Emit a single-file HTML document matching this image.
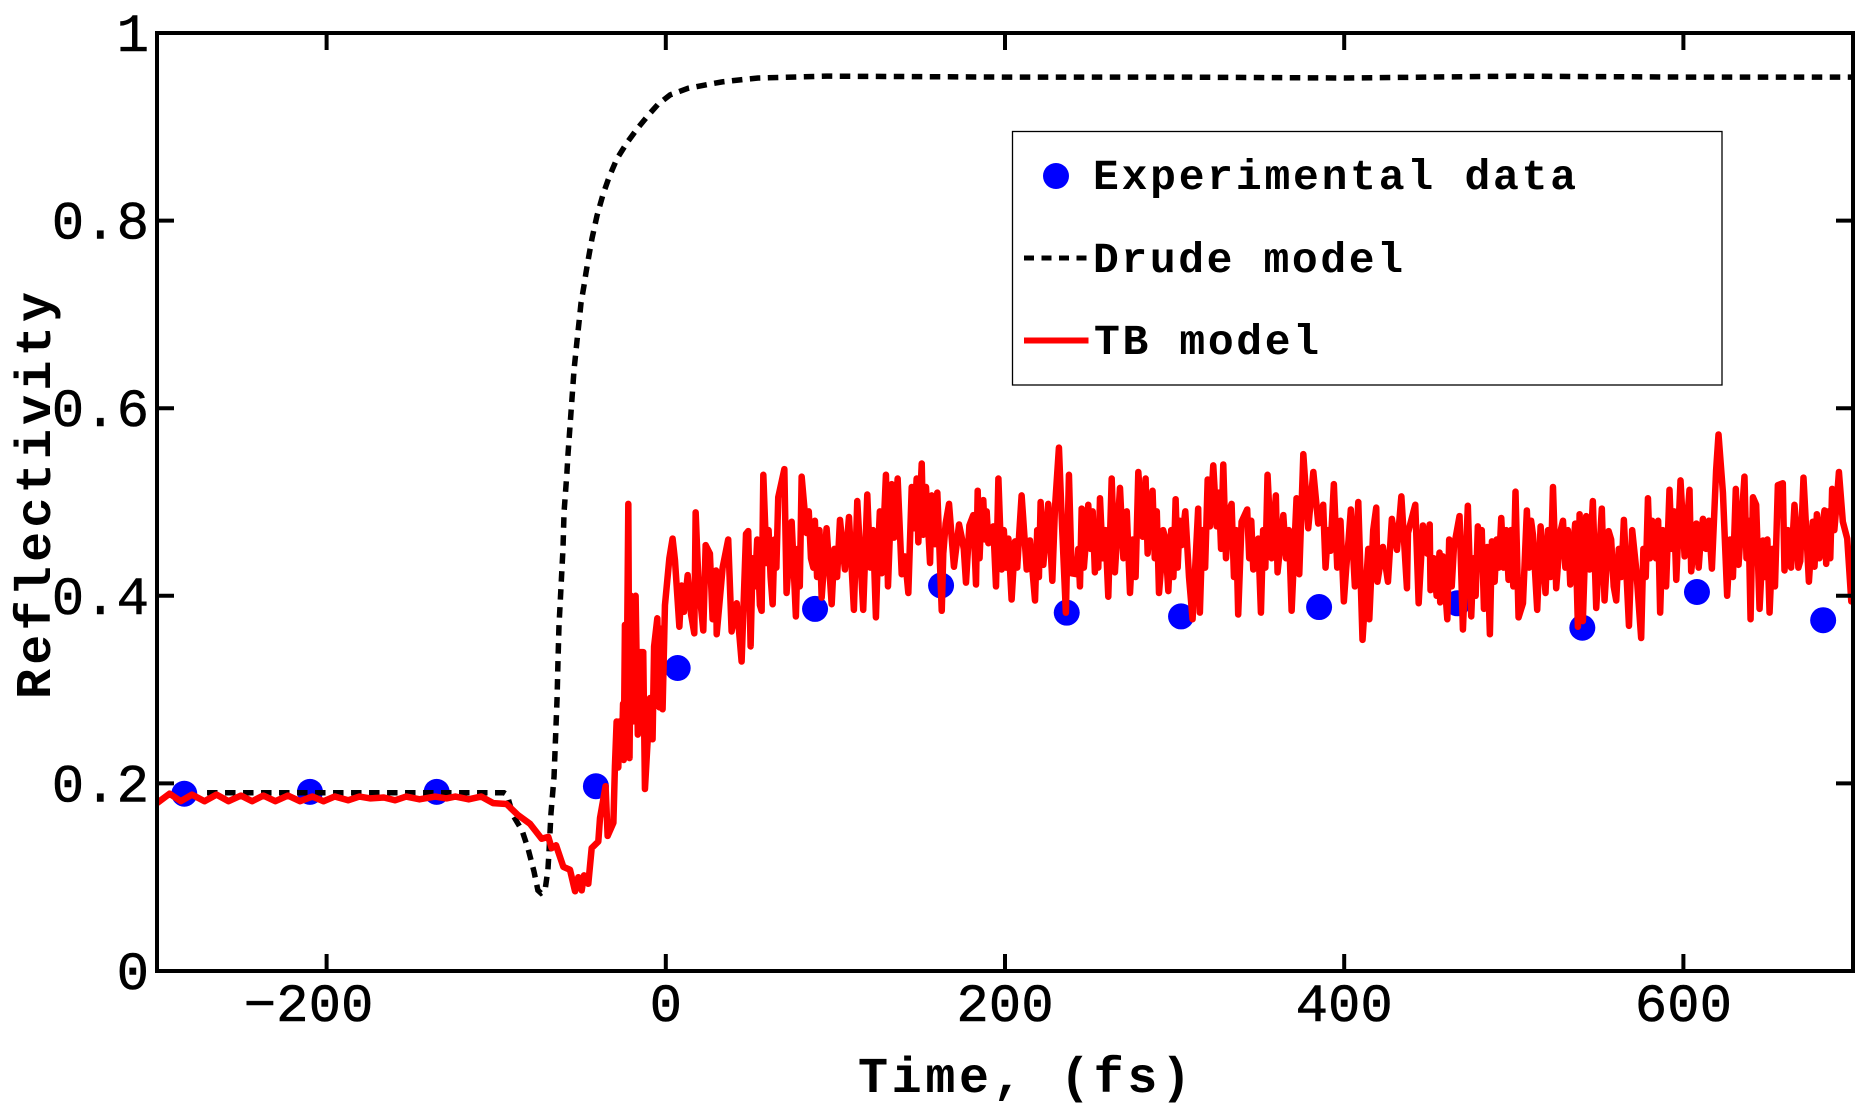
<!DOCTYPE html>
<html lang="en">
<head>
<meta charset="utf-8">
<title>Reflectivity vs time</title>
<style>
html,body{margin:0;padding:0;background:#fff;width:1868px;height:1111px;overflow:hidden}
svg{display:block}
text{font-family:"Liberation Mono",monospace;fill:#000}
</style>
</head>
<body>
<svg id="chart" xmlns="http://www.w3.org/2000/svg" width="1868" height="1111" viewBox="0 0 1868 1111">
  <rect x="0" y="0" width="1868" height="1111" fill="#fff"/>
  <defs><clipPath id="plot-clip"><rect x="157" y="33" width="1696" height="938"/></clipPath></defs>
  <g id="series" clip-path="url(#plot-clip)"></g>
  <g id="axes"></g>
  <text x="858" y="1092" font-size="50" font-weight="700" textLength="333" lengthAdjust="spacing">Time, (fs)</text>
  <text transform="translate(50,699) rotate(-90)" font-size="50" font-weight="700" textLength="407" lengthAdjust="spacing">Reflectivity</text>
  <g>
    <rect x="1012.5" y="131.5" width="709.5" height="253.5" fill="#fff" stroke="#000" stroke-width="1.3"/>
    <circle cx="1056" cy="176" r="13" fill="#0000ff"/>
    <text x="1093" y="189" font-size="43" font-weight="700" textLength="483" lengthAdjust="spacing">Experimental data</text>
    <line x1="1024" y1="258" x2="1090" y2="258" stroke="#000" stroke-width="5" stroke-dasharray="10 7.5"/>
    <text x="1093" y="272" font-size="43" font-weight="700" textLength="310" lengthAdjust="spacing">Drude model</text>
    <line x1="1024" y1="340.5" x2="1088.5" y2="340.5" stroke="#ff0000" stroke-width="6"/>
    <text x="1094" y="354" font-size="43" font-weight="700" textLength="225" lengthAdjust="spacing">TB model</text>
  </g>
</svg>
<script>
const xTicks = [-200, 0, 200, 400, 600];
const xTickLabels = ["\u2212200", "0", "200", "400", "600"];
const yTicks = [0, 0.2, 0.4, 0.6, 0.8, 1];
const yTickLabels = ["0", "0.2", "0.4", "0.6", "0.8", "1"];

const experimentalTimes = [-283.9, -209.8, -135.1, -41.2, 7, 88, 162.3, 236.4, 303.8, 385.2, 466.7, 540.4, 608, 682.4];
const experimentalValues = [0.189, 0.191, 0.191, 0.197, 0.323, 0.386, 0.411, 0.382, 0.378, 0.388, 0.392, 0.366, 0.404, 0.374];

const drudeTimes = [-270.5, -95.4, -93.6, -90.1, -84.8, -81.3, -77.7, -75.4, -73.6, -71.2, -69.5, -68.9, -67.7, -65.9, -64.1, -63.6, -63, -61.8, -60.6, -60, -58.3, -57.7, -54.1, -52.4, -51.2, -50, -48.2, -47.1, -45.3, -43.5, -40.6, -37, -33.5, -28.8, -22.9, -16.4, -10.5, -4.6, 2.5, 13.1, 24.3, 33.7, 43.8, 54.4, 74.4, 95, 200, 300, 400, 500, 600, 700];
const drudeValues = [0.19, 0.19, 0.188, 0.166, 0.15, 0.131, 0.106, 0.086, 0.083, 0.086, 0.108, 0.126, 0.168, 0.207, 0.291, 0.328, 0.367, 0.409, 0.451, 0.489, 0.531, 0.55, 0.641, 0.671, 0.691, 0.712, 0.731, 0.744, 0.763, 0.781, 0.805, 0.828, 0.846, 0.866, 0.883, 0.899, 0.912, 0.924, 0.934, 0.941, 0.945, 0.948, 0.95, 0.952, 0.953, 0.954, 0.953, 0.953, 0.952, 0.954, 0.953, 0.953];

const tbTimesPre = [-300, -292.6, -286, -279.4, -272, -264.9, -257.8, -250.5, -243.9, -237.3, -230.2, -222.8, -215.7, -208.4, -201.8, -195.2, -187.3, -180.7, -174.1, -166.2, -159.7, -153.1, -145.2, -136, -129.4, -124.1, -116.2, -108.9, -101.8, -93.9];
const tbValuesPre = [0.179, 0.189, 0.181, 0.188, 0.181, 0.188, 0.181, 0.187, 0.181, 0.187, 0.181, 0.187, 0.181, 0.186, 0.181, 0.186, 0.182, 0.186, 0.184, 0.185, 0.182, 0.186, 0.183, 0.186, 0.184, 0.186, 0.183, 0.186, 0.179, 0.178];

const tbTimesRise = [-87, -80.1, -73.2, -69.3, -67.3, -64.7, -60.4, -56.5, -53.5, -51.6, -49.6, -48.2, -45.7, -43.7, -39.8, -38.8, -35.5, -34.3, -30.9, -30, -29, -28, -27.4, -26, -25.2, -24.8, -24.1, -23.4, -22.1, -21.4, -20.5, -19.5, -17.8, -16.5, -15.1, -13.3, -12.3, -9.3, -7.8, -6.9, -5, -3.8, -3, -1.9, -0.5, 2.1, 4, 5.4, 8, 9.3, 10.7, 12.9, 14.9, 16.8, 17.6, 19.2, 22.1, 23.5, 26, 27.6, 29.6, 30];
const tbValuesRise = [0.166, 0.157, 0.141, 0.143, 0.131, 0.134, 0.111, 0.108, 0.085, 0.1, 0.086, 0.102, 0.093, 0.131, 0.138, 0.163, 0.197, 0.144, 0.158, 0.218, 0.266, 0.217, 0.266, 0.229, 0.285, 0.225, 0.369, 0.228, 0.498, 0.227, 0.4, 0.266, 0.4, 0.252, 0.34, 0.34, 0.194, 0.291, 0.247, 0.346, 0.376, 0.281, 0.365, 0.279, 0.39, 0.44, 0.461, 0.438, 0.367, 0.411, 0.383, 0.422, 0.38, 0.36, 0.489, 0.417, 0.363, 0.454, 0.445, 0.375, 0.427, 0.359];

const tbTimesA = [33.5, 36.8, 38.8, 41.8, 44.7, 47.3, 48.6, 50, 53.9, 55.5, 56.5, 57.5, 59.4, 63, 66.3, 69.9, 71.2, 74.2, 76.7, 80.1, 83, 87, 87.9, 91.9, 94.8, 97.8, 102.7, 105.6, 108, 110.9, 112.9, 116.4, 118.8, 123.9];
const tbValuesA = [0.43, 0.46, 0.362, 0.392, 0.33, 0.466, 0.469, 0.346, 0.46, 0.39, 0.384, 0.529, 0.435, 0.391, 0.505, 0.535, 0.403, 0.479, 0.378, 0.527, 0.467, 0.43, 0.48, 0.398, 0.472, 0.391, 0.481, 0.428, 0.484, 0.385, 0.501, 0.385, 0.508, 0.377];

const tbTimesB = [127.3, 129.8, 131, 133.2, 134.6, 136.7, 139.1, 141, 143, 145, 146.5, 147.9, 148.9, 150.9, 151.8, 153.4, 155.8, 156.8, 158.7, 160.1, 162.7, 163.6, 165, 167, 169.9, 172.9, 174.4, 177, 179, 181.3, 182.9, 183.9, 187.2, 190.2, 193.1, 194.7, 196.1, 198, 202, 203.9, 205.9, 209.8, 212.8, 214.7, 217.7, 221, 222.6, 225.5, 227.9, 229.5, 231.8, 233.4, 235.9, 237.7, 239.3, 242.2, 245.2, 249.1, 253, 256, 260.9, 262.9, 264.8, 267.8, 273.7];
const tbValuesB = [0.424, 0.529, 0.41, 0.519, 0.462, 0.525, 0.423, 0.442, 0.403, 0.516, 0.472, 0.525, 0.457, 0.541, 0.465, 0.516, 0.435, 0.507, 0.455, 0.51, 0.384, 0.445, 0.477, 0.498, 0.431, 0.476, 0.463, 0.414, 0.475, 0.486, 0.412, 0.512, 0.502, 0.456, 0.474, 0.41, 0.525, 0.428, 0.461, 0.396, 0.458, 0.507, 0.428, 0.459, 0.395, 0.5, 0.433, 0.498, 0.416, 0.495, 0.558, 0.484, 0.382, 0.529, 0.424, 0.423, 0.493, 0.497, 0.425, 0.504, 0.399, 0.525, 0.425, 0.515, 0.403];

const tbTimesC = [278.6, 281.1, 282.9, 284.1, 287, 290.8, 294.3, 296.3, 300.6, 304.1, 310.6, 313.9, 314.9, 319.5, 320.8, 322.8, 324.8, 328.7, 333.6, 337.5, 339.5, 342.8, 346.4, 349.3, 350.9, 354.8, 357.2, 359.7, 360.7, 364.1, 369, 371.9, 373.5, 375.9, 378.8, 381.8, 384.7, 387.6, 391.9, 393.9, 399.8, 403.9, 406.3, 408.3, 410.8, 414.2, 414.8, 417.1];
const tbValuesC = [0.532, 0.463, 0.525, 0.445, 0.512, 0.403, 0.463, 0.405, 0.503, 0.454, 0.375, 0.493, 0.382, 0.524, 0.474, 0.539, 0.474, 0.54, 0.498, 0.38, 0.479, 0.492, 0.428, 0.461, 0.382, 0.529, 0.44, 0.507, 0.425, 0.486, 0.384, 0.504, 0.423, 0.551, 0.472, 0.532, 0.477, 0.497, 0.448, 0.519, 0.394, 0.492, 0.41, 0.5, 0.353, 0.45, 0.375, 0.47];

const tbTimesD = [418.9, 419.6, 422.8, 425.8, 428.1, 431.1, 433.7, 437, 437.6, 441.9, 443.9, 446.4, 449, 450.4, 450.9, 456.2, 456.6, 458.2, 460.8, 464.7, 468, 470, 472.9, 474.9, 478.8, 482.4, 484.3, 485.9, 487.1, 488.7, 492.6, 496.9, 501, 502.8, 505.4, 507.7, 511.3, 513.8, 515.8, 518.7, 523.1, 525, 529, 533.3, 536.2, 537.8, 538.8, 540.7, 542.7, 544.7, 546.6, 548.6];
const tbValuesD = [0.494, 0.415, 0.452, 0.415, 0.482, 0.449, 0.506, 0.408, 0.467, 0.497, 0.392, 0.475, 0.445, 0.476, 0.406, 0.446, 0.393, 0.442, 0.375, 0.452, 0.485, 0.364, 0.496, 0.378, 0.474, 0.386, 0.452, 0.359, 0.458, 0.415, 0.483, 0.417, 0.511, 0.377, 0.392, 0.491, 0.465, 0.385, 0.474, 0.403, 0.516, 0.408, 0.48, 0.412, 0.477, 0.367, 0.487, 0.373, 0.485, 0.428, 0.501, 0.387];

const tbTimesE = [551.9, 553.5, 555.9, 560.4, 564.9, 567.9, 569.8, 572.2, 575.1, 579.1, 582.6, 586.3, 591.8, 595.8, 598.3, 600.7, 603.6, 604.6, 607.6, 611.5, 616.8, 619.3, 620.7, 623.3, 625.8, 630.9, 632.5, 636, 639.6, 641, 642.9, 644.9, 646.9, 650.8, 655.7, 658.6, 659.6, 665.5, 668.9, 670.8, 674, 676.3, 677.3, 678.7, 683.2, 684.2, 687.7, 691.7, 694, 696.6, 699];
const tbValuesE = [0.493, 0.395, 0.469, 0.395, 0.481, 0.368, 0.47, 0.428, 0.355, 0.504, 0.472, 0.382, 0.513, 0.417, 0.523, 0.442, 0.513, 0.426, 0.477, 0.482, 0.429, 0.534, 0.572, 0.51, 0.4, 0.514, 0.433, 0.527, 0.375, 0.505, 0.497, 0.386, 0.459, 0.382, 0.518, 0.52, 0.427, 0.497, 0.437, 0.526, 0.415, 0.479, 0.431, 0.487, 0.491, 0.434, 0.514, 0.532, 0.479, 0.461, 0.394];

/* smaller oscillations inside the solid core of the noisy trace, estimated by eye */
const tbCoreTimes = [51.2, 52.6, 60.6, 61.8, 64.1, 65.2, 77.8, 79, 84.3, 85.6, 89.2, 90.6, 99.4, 101, 120.5, 122.2, 125, 126.2, 175.7, 185, 186.1, 188.2, 189.2, 199.3, 200.7, 207.2, 208.5, 219, 220, 243.2, 244.2, 246.5, 247.8, 250.4, 251.7, 254, 255, 257.6, 259.2, 269.8, 271.8, 275.3, 277, 288.3, 289.5, 292, 293.2, 298, 299.3, 301.8, 303, 306.3, 308.5, 316.4, 318, 326.1, 327.4, 330.3, 332, 335, 336.3, 344, 345.2, 352.2, 353.5, 365.7, 367.4, 389, 390.5, 395.9, 397.8, 401.2, 402.6, 452.7, 454.5, 461.9, 463.4, 476.2, 477.5, 479.9, 481.1, 489.9, 491.2, 494, 495.5, 498.3, 499.7, 509, 510.2, 520.2, 521.7, 526.3, 527.7, 530.4, 531.9, 557.4, 558.9, 561.9, 563.4, 576.4, 577.8, 580.3, 581.5, 583.8, 585.1, 587.8, 589.8, 593.1, 594.5, 609, 610.2, 613.3, 615, 627.5, 629.2, 637.2, 638.4, 648.2, 649.5, 652.4, 654, 661.5, 663.5, 666.6, 667.8, 680.2, 681.7, 685.4, 686.6, 689, 690.4];
const tbCoreValues = [0.44, 0.41, 0.47, 0.42, 0.46, 0.43, 0.45, 0.41, 0.49, 0.44, 0.42, 0.47, 0.45, 0.42, 0.43, 0.47, 0.44, 0.49, 0.45, 0.44, 0.49, 0.46, 0.49, 0.47, 0.43, 0.43, 0.47, 0.47, 0.42, 0.45, 0.41, 0.43, 0.46, 0.45, 0.49, 0.47, 0.43, 0.44, 0.47, 0.44, 0.49, 0.46, 0.42, 0.44, 0.49, 0.43, 0.47, 0.47, 0.42, 0.43, 0.48, 0.49, 0.42, 0.47, 0.43, 0.51, 0.45, 0.44, 0.49, 0.42, 0.47, 0.44, 0.48, 0.47, 0.43, 0.44, 0.47, 0.43, 0.47, 0.43, 0.48, 0.43, 0.46, 0.44, 0.4, 0.46, 0.41, 0.44, 0.4, 0.44, 0.47, 0.46, 0.43, 0.43, 0.47, 0.47, 0.41, 0.43, 0.48, 0.47, 0.42, 0.44, 0.47, 0.43, 0.47, 0.46, 0.41, 0.45, 0.42, 0.45, 0.42, 0.44, 0.48, 0.44, 0.48, 0.47, 0.41, 0.45, 0.49, 0.43, 0.46, 0.45, 0.48, 0.46, 0.42, 0.44, 0.48, 0.42, 0.46, 0.45, 0.41, 0.47, 0.43, 0.47, 0.43, 0.44, 0.47, 0.49, 0.44, 0.47, 0.5];

const tbTimes = [].concat(tbTimesPre, tbTimesRise, tbTimesA, tbTimesB, tbTimesC, tbTimesD, tbTimesE, tbCoreTimes);
const tbValues = [].concat(tbValuesPre, tbValuesRise, tbValuesA, tbValuesB, tbValuesC, tbValuesD, tbValuesE, tbCoreValues);

const plotLeft = 157, plotRight = 1853, plotTop = 33, plotBottom = 971;
const xMin = -300, xMax = 700, yMin = 0, yMax = 1;
const SVGNS = "http://www.w3.org/2000/svg";

function xScale(t) { return plotLeft + (t - xMin) / (xMax - xMin) * (plotRight - plotLeft); }
function yScale(r) { return plotBottom - (r - yMin) / (yMax - yMin) * (plotBottom - plotTop); }
function pathFrom(ts, vs) {
  const n = Math.min(ts.length, vs.length);
  const order = [];
  for (let i = 0; i < n; i++) order.push(i);
  order.sort(function (a, b) { return ts[a] - ts[b]; });
  let d = "";
  order.forEach(function (k, i) {
    d += (i ? "L" : "M") + xScale(ts[k]).toFixed(2) + " " + yScale(vs[k]).toFixed(2);
  });
  return d;
}
function make(tag, attrs, parent) {
  const el = document.createElementNS(SVGNS, tag);
  for (const k in attrs) el.setAttribute(k, attrs[k]);
  parent.appendChild(el);
  return el;
}

const seriesGroup = document.getElementById("series");
const axesGroup = document.getElementById("axes");

experimentalTimes.forEach(function (t, i) {
  const dot = make("circle", { cx: xScale(t), cy: yScale(experimentalValues[i]), r: 13, fill: "#0000ff" }, seriesGroup);
  
  
});

const drudeLine = make("path", { d: pathFrom(drudeTimes, drudeValues), fill: "none", stroke: "#000", "stroke-width": 5.5, "stroke-dasharray": "10.5 7.5" }, seriesGroup);



const tbLine = make("path", { d: pathFrom(tbTimes, tbValues), fill: "none", stroke: "#ff0000", "stroke-width": 6.5, "stroke-linejoin": "round", "stroke-linecap": "round" }, seriesGroup);



const frame = make("rect", { x: plotLeft, y: plotTop, width: plotRight - plotLeft, height: plotBottom - plotTop, fill: "none", stroke: "#000", "stroke-width": 4 }, axesGroup);



const tickLen = 17;
xTicks.forEach(function (t, i) {
  const x = xScale(t);
  const bottomTick = make("line", { x1: x, x2: x, y1: plotBottom, y2: plotBottom - tickLen, stroke: "#000", "stroke-width": 4 }, axesGroup);
  
  
  const topTick = make("line", { x1: x, x2: x, y1: plotTop, y2: plotTop + tickLen, stroke: "#000", "stroke-width": 4 }, axesGroup);
  
  
  const label = make("text", { x: t < 0 ? x - 18 : x, y: 1021, "text-anchor": "middle", "font-size": 54, stroke: "#000", "stroke-width": 0.6 }, axesGroup);
  label.textContent = xTickLabels[i];
  
  
});

yTicks.forEach(function (r, i) {
  const y = yScale(r);
  const leftTick = make("line", { x1: plotLeft, x2: plotLeft + tickLen, y1: y, y2: y, stroke: "#000", "stroke-width": 4 }, axesGroup);
  
  
  const rightTick = make("line", { x1: plotRight, x2: plotRight - tickLen, y1: y, y2: y, stroke: "#000", "stroke-width": 4 }, axesGroup);
  
  
  const label = make("text", { x: 149, y: y + 18, "text-anchor": "end", "font-size": 54, stroke: "#000", "stroke-width": 0.6 }, axesGroup);
  label.textContent = yTickLabels[i];
  
  
});
</script>
</body>
</html>
